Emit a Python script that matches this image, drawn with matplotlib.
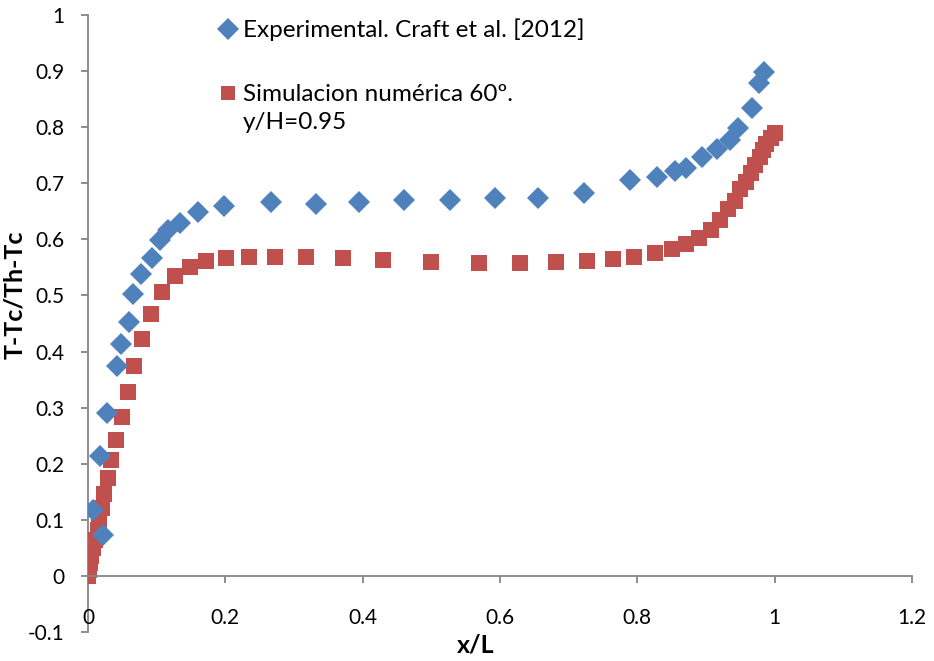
import matplotlib
matplotlib.use("Agg")
import matplotlib.pyplot as plt

plt.rcParams['font.family'] = ['Lato', 'DejaVu Sans']

# Experimental data (Craft et al. 2012)
exp_x = [0.008, 0.017, 0.022, 0.027, 0.042, 0.048, 0.060, 0.066, 0.077, 0.093,
         0.105, 0.117, 0.134, 0.160, 0.198, 0.266, 0.332, 0.394, 0.460, 0.527,
         0.593, 0.656, 0.722, 0.790, 0.828, 0.855, 0.871, 0.894, 0.916, 0.935,
         0.946, 0.967, 0.977, 0.984]
exp_y = [0.118, 0.213, 0.073, 0.291, 0.374, 0.413, 0.453, 0.503, 0.538, 0.566,
         0.599, 0.616, 0.630, 0.649, 0.660, 0.666, 0.663, 0.666, 0.671, 0.670,
         0.674, 0.673, 0.682, 0.705, 0.711, 0.722, 0.728, 0.747, 0.761, 0.778,
         0.798, 0.835, 0.878, 0.899]

# Numerical simulation 60 deg, y/H = 0.95
sim_x = [0.000, 0.001, 0.003, 0.005, 0.008, 0.010, 0.014, 0.016, 0.020, 0.024,
         0.029, 0.034, 0.041, 0.049, 0.058, 0.067, 0.079, 0.092, 0.108, 0.127,
         0.148, 0.172, 0.201, 0.234, 0.273, 0.317, 0.371, 0.430, 0.500, 0.569,
         0.629, 0.681, 0.726, 0.765, 0.795, 0.826, 0.850, 0.871, 0.890, 0.907,
         0.920, 0.932, 0.942, 0.950, 0.958, 0.965, 0.971, 0.978, 0.983, 0.988,
         0.994, 1.000]
sim_y = [0.000, 0.011, 0.023, 0.036, 0.049, 0.064, 0.081, 0.100, 0.121, 0.146,
         0.174, 0.206, 0.242, 0.283, 0.327, 0.374, 0.422, 0.467, 0.506, 0.534,
         0.550, 0.562, 0.567, 0.569, 0.569, 0.568, 0.566, 0.563, 0.560, 0.558,
         0.558, 0.560, 0.561, 0.565, 0.569, 0.575, 0.582, 0.591, 0.602, 0.617,
         0.635, 0.654, 0.668, 0.689, 0.703, 0.718, 0.733, 0.747, 0.759, 0.770,
         0.780, 0.789]

x_ticks = [0, 0.2, 0.4, 0.6, 0.8, 1, 1.2]
x_ticklabels = ['0', '0.2', '0.4', '0.6', '0.8', '1', '1.2']
y_ticks = [-0.1, 0, 0.1, 0.2, 0.3, 0.4, 0.5, 0.6, 0.7, 0.8, 0.9, 1]
y_ticklabels = ['-0.1', '0', '0.1', '0.2', '0.3', '0.4', '0.5', '0.6', '0.7', '0.8', '0.9', '1']

blue = '#4F81BD'
red = '#C0504D'
axis_col = '#868686'

fig = plt.figure(figsize=(9.34, 6.61), dpi=100)
ax = fig.add_axes([88 / 934, 1 - 632 / 661, (912 - 88) / 934, (632 - 15) / 661])

ax.plot(exp_x, exp_y, linestyle='none', marker='D', ms=11.5, color=blue,
        markeredgewidth=0, label='Experimental. Craft et al. [2012]', zorder=3)
ax.plot(sim_x, sim_y, linestyle='none', marker='s', ms=11, color=red,
        markeredgewidth=0, label='Simulacion numérica 60º.\ny/H=0.95', zorder=2)

ax.set_xlim(0, 1.2)
ax.set_ylim(-0.1, 1)
ax.set_xticks(x_ticks)
ax.set_xticklabels(x_ticklabels)
ax.set_yticks(y_ticks)
ax.set_yticklabels(y_ticklabels)

for s in ['top', 'right']:
    ax.spines[s].set_visible(False)
ax.spines['bottom'].set_position(('data', 0))
ax.spines['bottom'].set_bounds(0, 1.2)
for s in ['left', 'bottom']:
    ax.spines[s].set_color(axis_col)
    ax.spines[s].set_linewidth(1.3)
ax.spines['left'].set_zorder(1)

ax.tick_params(axis='both', direction='out', length=5, width=1.3, color=axis_col,
               labelsize=15, labelcolor='black')
ax.tick_params(axis='x', pad=18)
ax.tick_params(axis='y', pad=12)

ax.set_xlabel('x/L', fontsize=18, fontweight='bold', va='center')
ax.xaxis.set_label_coords((476 - 88) / 824, -0.021)
ax.set_ylabel('T-Tc/Th-Tc', fontsize=18, fontweight='bold', va='center')
ax.yaxis.set_label_coords(-(88 - 15) / 824, (632 - 295) / 617)

leg = ax.legend(loc='upper left', bbox_to_anchor=(198 / 934, 1.005), bbox_transform=fig.transFigure,
                frameon=False, fontsize=17.5, handlelength=0.7, handletextpad=0.25,
                labelspacing=1.75, markerscale=0.95)
for t in leg.get_texts():
    t.set_linespacing(1.45)

# Excel puts the marker next to the first line of a wrapped legend entry
sim_handle = leg.legend_handles[1]
sim_handle.set_ydata([y + 11 for y in sim_handle.get_ydata()])

fig.savefig('out.png', dpi=100)
